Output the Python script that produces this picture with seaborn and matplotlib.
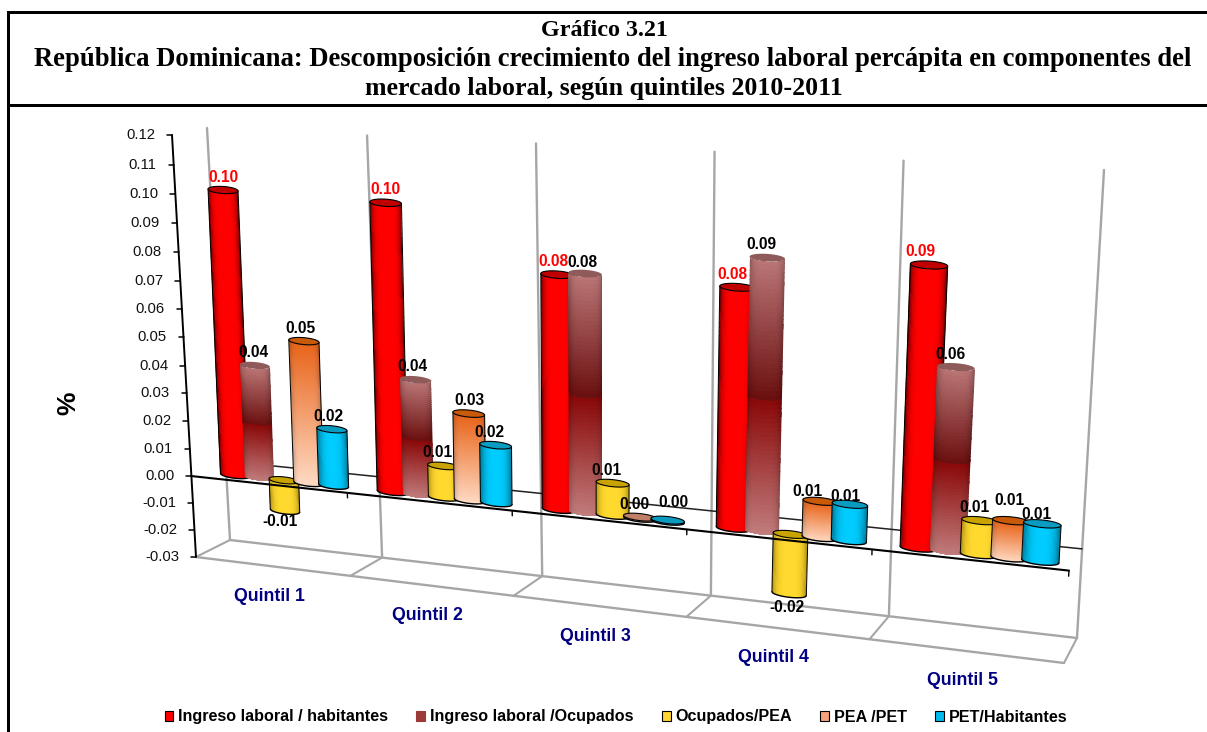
import numpy as np
import pandas as pd
import seaborn as sns
import matplotlib
matplotlib.use("Agg")
import matplotlib.pyplot as plt
from matplotlib.patches import Patch
from matplotlib.path import Path
from matplotlib.transforms import Transform, Affine2D
from matplotlib.colors import to_rgb

# ------------------ data ------------------
quintiles = ["Quintil 1", "Quintil 2", "Quintil 3", "Quintil 4", "Quintil 5"]
series = ["Ingreso laboral / habitantes", "Ingreso laboral /Ocupados",
          "Ocupados/PEA", "PEA /PET", "PET/Habitantes"]
ingreso_hab = [0.100, 0.099, 0.079, 0.079, 0.090]
ingreso_ocu = [0.040, 0.040, 0.080, 0.089, 0.059]
ocupados_pea = [-0.011, 0.011, 0.011, -0.020, 0.011]
pea_pet = [0.050, 0.030, 0.0004, 0.012, 0.012]
pet_hab = [0.020, 0.020, 0.0004, 0.012, 0.012]
y_ticks = [round(-0.03 + 0.01 * i, 2) for i in range(16)]
title_lines = ["Gráfico 3.21",
               "República Dominicana: Descomposición crecimiento del ingreso laboral percápita en componentes del",
               "mercado laboral, según quintiles 2010-2011"]

# ------------------ style ------------------
W, H = 1207, 732
sns.set_theme(style="white")
plt.rcParams["font.family"] = ["Liberation Sans", "DejaVu Sans"]
plt.rcParams["text.color"] = "black"
fig = plt.figure(figsize=(W / 100, H / 100), dpi=100, facecolor="white")
ax = fig.add_axes([0, 0, 1, 1])

df = pd.DataFrame({
    "Quintil": np.repeat(quintiles, 5),
    "Serie": series * 5,
    "Valor": np.array([ingreso_hab, ingreso_ocu, ocupados_pea, pea_pet, pet_hab]).T.ravel(),
})
base_colors = ["#ff0000", "#a04a4a", "#ffd633", "#f79060", "#00ccff"]
sns.barplot(data=df, x="Quintil", y="Valor", hue="Serie", hue_order=series,
            order=quintiles, palette=base_colors, width=0.79, gap=0,
            errorbar=None, legend=False, ax=ax)
ax.set_autoscale_on(False)
ax.set_xlim(-0.5, 4.5)
ax.set_ylim(-0.03, 0.12)
ax.axis("off")
# numeric overlay sharing the same scales, used for the 3D look of every bar
art = fig.add_axes([0, 0, 1, 1], facecolor="none")
art.set_xlim(-0.5, 4.5)
art.set_ylim(-0.03, 0.12)
art.set_autoscale_on(False)
art.axis("off")


# ------------------ perspective: (category, value) -> pixel ------------------
def solve_h(src, dst):
    A, b = [], []
    for (x, y), (u, v) in zip(src, dst):
        A.append([x, y, 1, 0, 0, 0, -u * x, -u * y]); b.append(u)
        A.append([0, 0, 0, x, y, 1, -v * x, -v * y]); b.append(v)
    return np.append(np.linalg.solve(np.array(A, float), np.array(b, float)), 1).reshape(3, 3)


class Homography(Transform):
    input_dims = output_dims = 2
    is_separable = False
    has_inverse = False

    def __init__(self, m):
        super().__init__()
        self.m = m

    def transform_non_affine(self, values):
        v = np.asarray(values, float)
        p = np.c_[v, np.ones(len(v))] @ self.m.T
        return p[:, :2] / p[:, 2:3]


to_display = Affine2D().scale(1, -1).translate(0, H)


def plane(src, dst):
    return Homography(solve_h(src, dst)) + to_display


corners = [(-0.5, -0.03), (4.5, -0.03), (-0.5, 0.12), (4.5, 0.12)]
back = plane(corners, [(230, 540), (1077, 638), (207, 128), (1104, 170)])
front = plane(corners, [(196, 557), (1064, 663), (172, 135), (1090, 178)])
mid = plane([(-0.316, 0), (3.684, 0), (-0.316, 0.10), (3.684, 0.09)],
            [(235, 475), (918, 548), (223, 190), (929, 265)])

GRID = "#a6a6a6"
# back wall and floor
xb = np.arange(-0.5, 5.0)
for x in xb:
    art.plot([x, x], [-0.03, 0.12], color=GRID, lw=1.7, transform=back, zorder=1, clip_on=False)
art.plot([-0.5, 4.5], [-0.03, -0.03], color=GRID, lw=1.7, transform=back, zorder=1, clip_on=False)
art.plot([-0.5, 4.5], [-0.03, -0.03], color=GRID, lw=1.7, transform=front, zorder=1, clip_on=False)
for x in xb:
    a = back.transform([(x, -0.03)])[0]
    b = front.transform([(x, -0.03)])[0]
    art.plot([a[0], b[0]], [a[1], b[1]], color=GRID, lw=1.5, transform=None, zorder=1, clip_on=False)
art.plot([-0.5, 4.5], [0, 0], color="#222222", lw=1.1, transform=back, zorder=1.5, clip_on=False)

# value axis
art.plot([-0.5, -0.5], [-0.03, 0.12], color="black", lw=1.4, transform=front, zorder=2, clip_on=False)
for t in y_ticks:
    p = front.transform([(-0.5, t)])[0]
    art.plot([p[0] - 5, p[0]], [p[1], p[1]], color="black", lw=1.1, transform=None, zorder=2, clip_on=False)
    art.annotate(f"{t:.2f}", xy=(-0.5, t), xycoords=front, xytext=(-17, 0),
                 textcoords="offset pixels", ha="right", va="center",
                 fontsize=10.7, color="#111111")


# ------------------ cylinders ------------------
def mix(a, b, f):
    return np.asarray(a)[None, None, :] * (1 - f[..., None]) + np.asarray(b)[None, None, :] * f[..., None]


def rgb(c):
    return np.array(to_rgb(c))


def shade(idx, U, T):
    au = np.clip(np.abs(U), 0, 1)
    if idx == 0:
        return mix(rgb("#ff0000"), rgb("#5c0000"), au ** 5)
    if idx == 1:
        up = mix(rgb("#bb7676"), rgb("#6a0e0e"), np.clip(T / 0.5, 0, 1))
        down = mix(rgb("#8a0808"), rgb("#c27e7e"), np.clip((T - 0.5) / 0.5, 0, 1))
        c = np.where((T < 0.5)[..., None], up, down)
        return c * (1 - 0.25 * au[..., None] ** 5)
    if idx == 2:
        return mix(rgb("#ffd92e"), rgb("#a88a10"), au ** 4)
    if idx == 3:
        c = mix(rgb("#e8641a"), rgb("#ffdcc6"), T)
        return c * (1 - 0.25 * au[..., None] ** 6)
    return mix(rgb("#00ccff"), rgb("#006f8c"), au ** 3)


top_colors = ["#c00000", "#8f5a5a", "#c9a300", "#c85a0a", "#0a9cc0"]
flat_top = "#c08068"
EY = 0.0012
# fine placement of individual value labels, (series, quintile): (dx, dy) in pixels
nudges = {(1, 0): (4, 0), (2, 0): (3, 3), (3, 0): (3, 0), (4, 0): (3, 0),
          (1, 1): (3, 0), (3, 1): (7, 0),
          (0, 2): (-4, 0), (1, 2): (3, -2), (4, 2): (12, 5),
          (0, 3): (-5, 0), (2, 3): (6, 0), (3, 3): (-7, -3), (4, 3): (2, -5),
          (0, 4): (-9, 0), (3, 4): (4, 7), (4, 4): (0, -4)}

for s_idx, container in enumerate(ax.containers):
    for q_idx, bar in enumerate(container):
        bar.set_visible(False)
        cx = bar.get_x() + bar.get_width() / 2
        hw = bar.get_width() * 0.6
        h = bar.get_height()
        v0, v1 = min(0.0, h), max(0.0, h)
        z = 3 + q_idx + s_idx * 0.1

        u = np.linspace(-1.06, 1.06, 35)
        t = np.linspace(0, 1, 61)
        arc = np.sqrt(np.clip(1 - u ** 2, 0, 1))
        X = np.tile(cx + hw * u, (len(t), 1))
        pad = 0.0004
        Y = np.array([(v1 + pad + (v0 - v1 - 2 * pad) * ti) - EY * arc for ti in t])
        Uc = np.tile((u[:-1] + u[1:]) / 2, (len(t) - 1, 1))
        Tc = np.tile(((t[:-1] + t[1:]) / 2)[:, None], (1, len(u) - 1))
        mesh = art.pcolormesh(X, Y, np.clip(shade(s_idx, Uc, Tc), 0, 1), transform=mid, zorder=z,
                              shading="flat", antialiased=False)
        ue = np.linspace(-1, 1, 41)
        ae = np.sqrt(1 - ue ** 2)
        outline = np.r_[np.c_[cx + hw * ue, v0 - EY * ae],
                        np.c_[cx + hw * ue[::-1], v1 - EY * ae[::-1]]]
        outline = np.r_[outline, outline[:1]]
        mesh.set_clip_path(Path(outline), mid)
        rim = "none" if s_idx == 1 else "black"
        if s_idx != 1:
            art.plot(cx + hw * ue, v0 - EY * ae, color="black", lw=1.0, transform=mid, zorder=z + .01, clip_on=False)
            art.plot([cx - hw, cx - hw], [v0, v1], color="black", lw=0.7, transform=mid, zorder=z + .01, clip_on=False)
            art.plot([cx + hw, cx + hw], [v0, v1], color="black", lw=0.7, transform=mid, zorder=z + .01, clip_on=False)
        a = np.linspace(0, 2 * np.pi, 60)
        col = flat_top if (s_idx == 3 and abs(h) < 0.001) else top_colors[s_idx]
        art.fill(cx + hw * np.cos(a), v1 + EY * np.sin(a), facecolor=col, edgecolor=rim,
                 lw=0.8, transform=mid, zorder=z + .02, clip_on=False)
        # value label
        if h < 0:
            off = (-8, -14)
            yy = v0
        elif s_idx == 0:
            off = (0, 13)
            yy = v1
        else:
            off = (-6, 13)
            yy = v1
        dx, dy = nudges.get((s_idx, q_idx), (0, 0))
        art.annotate(f"{h:.2f}", xy=(cx, yy), xycoords=mid, xytext=(off[0] + dx, off[1] + dy),
                     textcoords="offset pixels", ha="center", va="center", fontsize=11.2,
                     fontweight="bold", color="#ff0000" if s_idx == 0 else "black", zorder=20)

# front zero line with its ticks
art.plot([-0.5, 4.5], [0, 0], color="black", lw=1.5, transform=front, zorder=15, clip_on=False)
for x in xb[1:]:
    art.plot([x, x], [0, -0.0018], color="black", lw=1.0, transform=front, zorder=15, clip_on=False)

# category labels
for i, q in enumerate(quintiles):
    art.annotate(q, xy=(i, -0.03), xycoords=front, xytext=(-3, -30), textcoords="offset pixels",
                 ha="center", va="center", fontsize=12.8, fontweight="bold", color="#000080")

# axis label
art.text(68 / W, 1 - 403 / H, "%", rotation=90, ha="center", va="center", transform=art.transAxes,
         fontsize=19, fontweight="bold", color="black")

# ------------------ title box ------------------
LW = 3 * 72 / 100
for (x0, y0, x1, y1) in [(8, 732, 8, 12), (8, 12, 1207, 12), (8, 105, 1207, 105)]:
    art.plot([x0 / W, x1 / W], [1 - y0 / H, 1 - y1 / H], color="black", lw=LW, transform=art.transAxes,
             clip_on=False, solid_capstyle="projecting", zorder=30)
for line, x, y, fs in zip(title_lines, [604, 613, 604], [30, 60, 89], [17.4, 19.2, 18.6]):
    art.text(x / W, 1 - y / H, line, ha="center", va="center", transform=art.transAxes,
             fontsize=fs, fontweight="bold", family=["Liberation Serif"], color="black")

# ------------------ legend ------------------
handles = [Patch(facecolor=c, edgecolor=e, lw=0.8, label=l)
           for c, e, l in zip(["#ff0000", "#9c3a3a", "#ffd633", "#f7a27a", "#00bbee"],
                              ["black", "#9c3a3a", "black", "black", "black"], series)]
fig.legend(handles=handles, ncol=5, frameon=False, loc="center", bbox_to_anchor=(616 / W, 1 - 717 / H),
           prop={"weight": "bold", "size": 11.6}, handlelength=0.55, handleheight=0.55,
           handletextpad=0.3, columnspacing=1.75, borderpad=0, labelspacing=0, labelcolor="black")

fig.savefig("out.png", dpi=100, facecolor="white")
